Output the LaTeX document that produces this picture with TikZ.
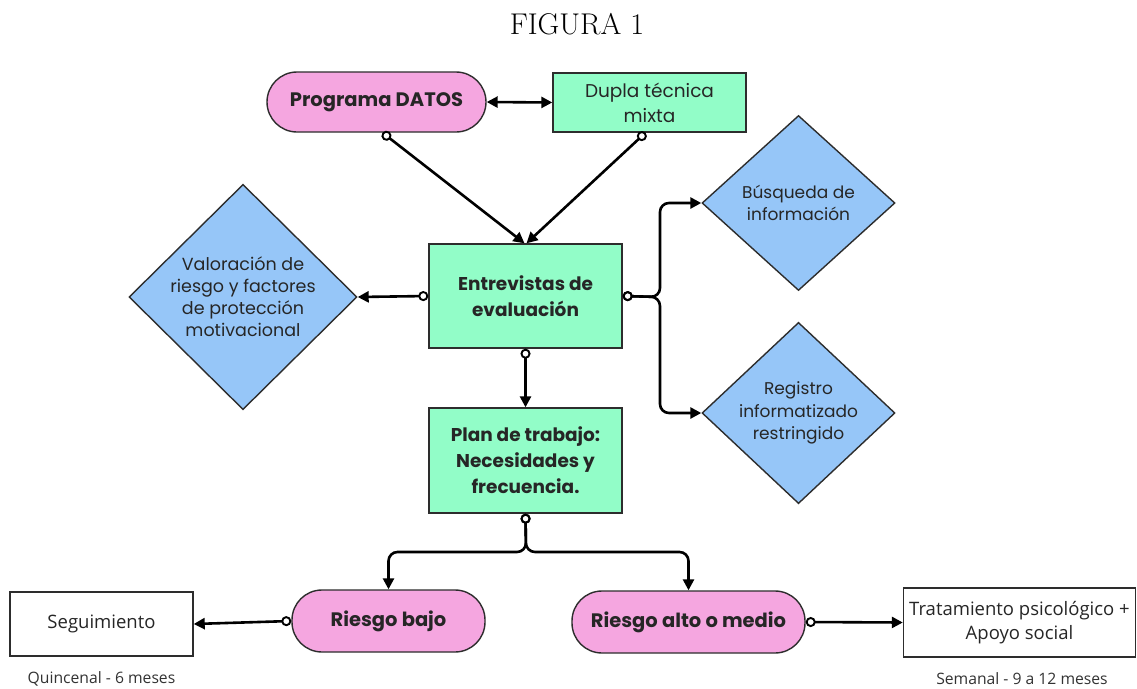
\documentclass[tikz,border=0pt]{standalone}
\usepackage{fontspec}
\newfontfamily\pop{Poppins}
\newfontfamily\osans{Open Sans}
\usetikzlibrary{arrows.meta,shapes.geometric}
\definecolor{pinkc}{RGB}{245,166,224}
\definecolor{greenc}{RGB}{146,253,200}
\definecolor{bluec}{RGB}{150,198,248}
\definecolor{edgec}{RGB}{45,45,45}
\tikzset{
  base/.style={draw=edgec, line width=1.4pt, align=center, inner sep=0pt, text=black!85},
  pill/.style={base, rectangle, rounded corners=30pt, fill=pinkc, font=\pop\bfseries\fontsize{19.5}{22}\selectfont},
  gbox/.style={base, rectangle, fill=greenc},
  gbold/.style={gbox, font=\pop\bfseries\fontsize{18.5}{26}\selectfont},
  dia/.style={base, diamond, fill=bluec, font=\pop\fontsize{17}{22.4}\selectfont},
  wbox/.style={base, rectangle, fill=white, font=\osans\fontsize{18.5}{24}\selectfont},
  note/.style={font=\osans\fontsize{15.7}{18}\selectfont, text=black!80},
  conn/.style={line width=2.6pt, draw=black, rounded corners=9pt,
    {Circle[open,length=10pt,width=10pt,line width=1.9pt]}-{Triangle[length=11pt,width=11pt]}},
}
\begin{document}
\begin{tikzpicture}[x=1pt,y=-1pt]
\useasboundingbox[fill=white] (0,0) rectangle (1137,688);
\node[font=\fontsize{30}{32}\selectfont] (fig) at (577,24) {FIGURA 1};
% top row
\node[pill, minimum width=219, minimum height=60] (pd) at (376.5,102) {Programa DATOS};
\node[gbox, minimum width=193, minimum height=59, font=\pop\fontsize{18.5}{25}\selectfont] (dt) at (649.5,102.5) {Dupla técnica\\mixta};
% middle column
\node[gbold, minimum width=193, minimum height=104] (ev) at (525.5,296) {Entrevistas de\\evaluación};
\node[gbold, minimum width=193, minimum height=105] (pl) at (525.5,460.5) {Plan de trabajo:\\Necesidades y\\frecuencia.};
% diamonds
\node[dia, minimum width=228, minimum height=223, font=\pop\fontsize{17.5}{22}\selectfont] (va) at (243,297) {Valoración de\\riesgo y factores\\de protección\\motivacional};
\node[dia, minimum width=193, minimum height=175] (bu) at (798.5,203) {Búsqueda de\\información};
\node[dia, minimum width=193, minimum height=172] (re) at (798.5,413) {Registro\\informatizado\\restringido};
% bottom row
\node[pill, minimum width=193, minimum height=62] (rb) at (388.5,621) {Riesgo bajo};
\node[pill, minimum width=233, minimum height=62] (ra) at (688.5,622) {Riesgo alto o medio};
\node[wbox, minimum width=183, minimum height=64] (se) at (101.5,624) {Seguimiento};
\node[wbox, minimum width=232, minimum height=69] (tr) at (1019.5,622.5) {Tratamiento psicológico +\\Apoyo social};
\node[note] (qn) at (101.5,679) {Quincenal - 6 meses};
\node[note] (sm) at (1022,679) {Semanal - 9 a 12 meses};
% junctions
\coordinate (j1) at (660,297);
\coordinate (j2) at (526,552);
% connectors
\draw[line width=2.6pt, {Triangle[length=11pt,width=11pt]}-{Triangle[length=11pt,width=11pt]}] (pd.east) -- (dt.west);
\draw[conn] ([xshift=6pt]pd.south) -- ([xshift=-1pt]ev.north);
\draw[conn] ([xshift=-4pt]dt.south) -- ([xshift=1pt]ev.north);
\draw[conn] (ev.west) -- (va.east);
\draw[conn] (ev.east) -- (j1) |- (bu.west);
\draw[conn] (ev.east) -- (j1) |- (re.west);
\draw[conn] (ev.south) -- (pl.north);
\draw[conn] (pl.south) -- (j2) -| (rb.north);
\draw[conn] (pl.south) -- (j2) -| (ra.north);
\draw[conn] (rb.west) -- (se.east);
\draw[conn] (ra.east) -- (tr.west);
\end{tikzpicture}
\end{document}
